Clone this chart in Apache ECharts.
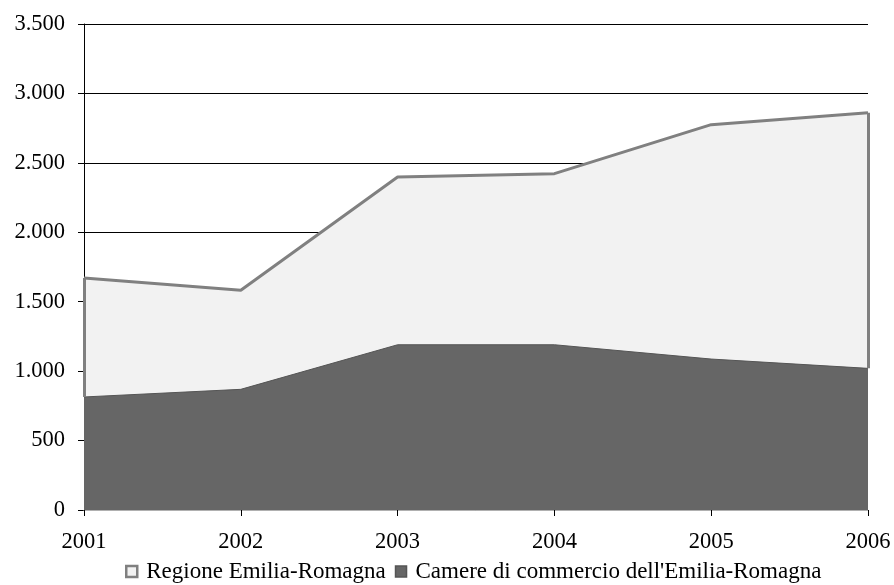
<!DOCTYPE html>
<html>
<head>
<meta charset="utf-8">
<script src="https://cdn.jsdelivr.net/npm/echarts@6/dist/echarts.min.js"></script>
<style>
  html, body { margin: 0; padding: 0; background: #fff; }
  #chart { width: 894px; height: 585px; }
</style>
</head>
<body>
<div id="chart"></div>
<script>
// anni
const years = ['2001', '2002', '2003', '2004', '2005', '2006'];
// valori
const regione = [1671, 1582, 2398, 2422, 2775, 2860];
const camere = [814, 869, 1190, 1190, 1087, 1020];
const seriesNames = ['Regione Emilia-Romagna', "Camere di commercio dell'Emilia-Romagna"];

const fmt = v => String(v).replace(/\B(?=(\d{3})+(?!\d))/g, '.');
const font = 'Liberation Serif';
const last = years.length - 1;

const chart = echarts.init(document.getElementById('chart'));

chart.setOption({
  animation: false,
  textStyle: { fontFamily: font },
  grid: { left: 84, right: 26, top: 24, bottom: 75 },
  legend: {
    top: 560,
    left: 125,
    padding: 0,
    icon: 'rect',
    itemWidth: 11,
    itemHeight: 11,
    itemGap: 9,
    textStyle: { fontFamily: font, fontSize: 23, color: '#000', padding: [0, 0, 0, 4] },
    data: [
      { name: seriesNames[0], itemStyle: { color: '#f2f2f2', borderColor: '#808080', borderWidth: 2.5 } },
      { name: seriesNames[1], itemStyle: { color: '#666666', borderColor: '#555555', borderWidth: 1.5 } }
    ]
  },
  xAxis: {
    type: 'category',
    boundaryGap: false,
    data: years,
    axisLine: { lineStyle: { color: '#b0b0b0', width: 1 } },
    axisTick: { show: true, length: 6, lineStyle: { color: '#000' } },
    axisLabel: { fontFamily: font, fontSize: 22.5, color: '#000', margin: 21 },
    splitLine: { show: false },
    z: 10
  },
  yAxis: {
    type: 'value',
    min: 0,
    max: 3500,
    interval: 500,
    axisLine: { show: true, lineStyle: { color: '#000', width: 1 } },
    axisTick: { show: true, length: 6, lineStyle: { color: '#000' } },
    axisLabel: { fontFamily: font, fontSize: 22.5, color: '#000', margin: 19, formatter: fmt },
    splitLine: { show: true, lineStyle: { color: '#000', width: 1 } }
  },
  series: [
    {
      name: seriesNames[0],
      type: 'line',
      data: regione,
      symbol: 'none',
      lineStyle: { color: '#808080', width: 3 },
      itemStyle: { color: '#f2f2f2' },
      areaStyle: { color: '#f2f2f2', opacity: 1 },
      markLine: {
        silent: true,
        symbol: 'none',
        label: { show: false },
        lineStyle: { color: '#808080', width: 3, type: 'solid' },
        data: [
          [{ coord: [years[0], regione[0]] }, { coord: [years[0], camere[0]] }],
          [{ coord: [years[last], regione[last]] }, { coord: [years[last], camere[last]] }]
        ]
      },
      z: 2
    },
    {
      name: seriesNames[1],
      type: 'line',
      data: camere,
      symbol: 'none',
      lineStyle: { color: '#555555', width: 1 },
      itemStyle: { color: '#666666' },
      areaStyle: { color: '#666666', opacity: 1 },
      z: 3
    }
  ]
});
</script>
</body>
</html>
